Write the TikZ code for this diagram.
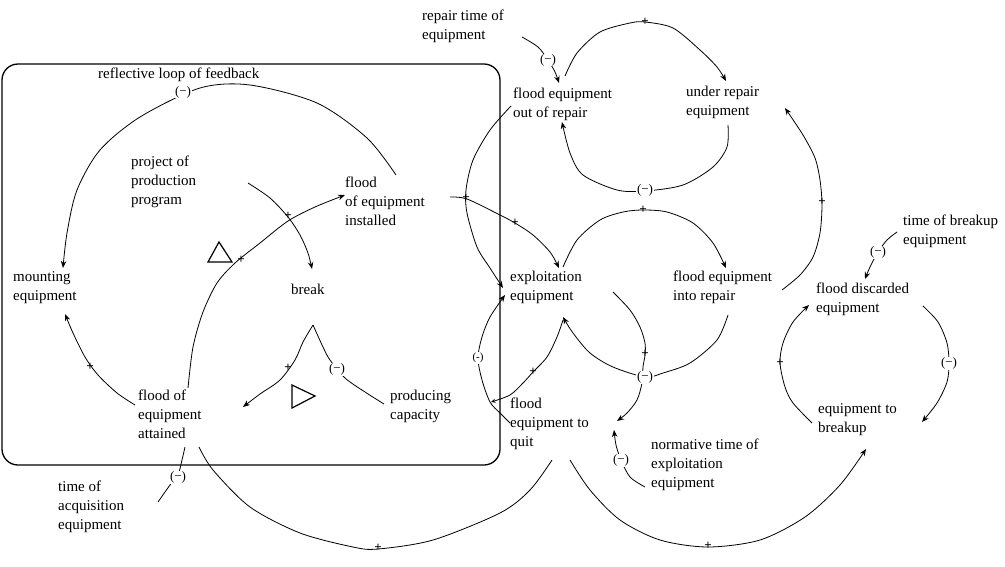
\documentclass[tikz,border=0pt]{standalone}
\usepackage{fontspec}
\setmainfont{Liberation Serif}
\usetikzlibrary{arrows.meta}
\begin{document}
\begin{tikzpicture}[x=1pt,y=-1pt,
  txt/.style={anchor=north west,inner sep=0pt,align=left,font=\fontsize{15}{19}\selectfont,execute at begin node=\strut},
  link/.style={line width=0.8pt},
  arr/.style={link,-{Stealth[length=7pt,width=5.5pt]}},
  sgn/.style={fill=white,inner sep=0.6pt,font=\fontsize{13}{13}\selectfont},
  pls/.style={inner sep=0.3pt,font=\bfseries\fontsize{13}{13}\selectfont},
  boxline/.style={line width=1.3pt,rounded corners=16pt},
  tri/.style={line width=1.2pt,line join=miter}]
\useasboundingbox (0,0) rectangle (1005,566);
% frame
\draw[boxline] (2,64) rectangle (500,465);
\draw[tri] (208,262) -- (219,242) -- (232,262) -- cycle;
\draw[tri] (292,385) -- (315,396) -- (292,408) -- cycle;
% text nodes
\node[txt] (refl) at (98,65) {reflective loop of feedback};
\node[txt] (proj) at (131,156) {project of\\production\\program};
\node[txt] (inst) at (345,177) {flood\\of equipment\\installed};
\node[txt] (mount) at (13,271) {mounting\\equipment};
\node[txt] (brk) at (291,281) {break};
\node[txt] (attn) at (138,390) {flood of\\equipment\\attained};
\node[txt] (prod) at (390,390) {producing\\capacity};
\node[txt] (acq) at (58,481) {time of\\acquisition\\equipment};
\node[txt] (rtime) at (422,10) {repair time of\\equipment};
\node[txt] (outr) at (513,88) {flood equipment\\out of repair};
\node[txt] (under) at (686,86) {under repair\\equipment};
\node[txt] (expl) at (510,271) {exploitation\\equipment};
\node[txt] (intor) at (673,271) {flood equipment\\into repair};
\node[txt] (quit) at (510,398) {flood\\equipment to\\quit};
\node[txt] (norm) at (651,439) {normative time of\\exploitation\\equipment};
\node[txt] (btime) at (903,215) {time of breakup\\equipment};
\node[txt] (disc) at (816,283) {flood discarded\\equipment};
\node[txt] (tobr) at (818,403) {equipment to\\breakup};
% connector end points
\coordinate (a1) at (396,175);  \coordinate (b1) at (63,268);
\coordinate (a2) at (248,183);  \coordinate (b2) at (312,269);
\coordinate (a3) at (188,388);  \coordinate (b3) at (345,195);
\coordinate (a4) at (135,405);  \coordinate (b4) at (65,314);
\coordinate (a5) at (313,325);  \coordinate (b5) at (243,407);
\coordinate (a6) at (313,325);  \coordinate (b6) at (384,404);
\coordinate (a7) at (158,502);  \coordinate (b7) at (185,447);
\coordinate (a8) at (199,447);  \coordinate (b8) at (552,460);
\coordinate (a9) at (570,460);  \coordinate (b9) at (866,449);
\coordinate (a10) at (565,76);  \coordinate (b10) at (726,81);
\coordinate (a11) at (728,125); \coordinate (b11) at (562,122);
\coordinate (a12) at (522,37);  \coordinate (b12) at (559,83);
\coordinate (a13) at (511,106); \coordinate (b13) at (503,288);
\coordinate (a14) at (510,423); \coordinate (b14) at (505,295);
\coordinate (a15) at (563,320); \coordinate (b15) at (491,402);
\coordinate (a16) at (563,267); \coordinate (b16) at (726,268);
\coordinate (a17) at (450,197); \coordinate (b17) at (559,268);
\coordinate (a18) at (728,315); \coordinate (b18) at (563,317);
\coordinate (a19) at (613,292); \coordinate (b19) at (617,421);
\coordinate (a20) at (645,487); \coordinate (b20) at (614,430);
\coordinate (a21) at (782,290); \coordinate (b21) at (785,108);
\coordinate (a22) at (897,232); \coordinate (b22) at (865,279);
\coordinate (a23) at (812,423); \coordinate (b23) at (809,305);
\coordinate (a24) at (923,306); \coordinate (b24) at (922,422);
% connectors
\draw[arr] plot[smooth] coordinates {(a1) (367,138) (317,103) (250,85) (200,88) (140,117) (100,150) (77,190) (67,233) (b1)};
\draw[arr] plot[smooth] coordinates {(a2) (270,198) (288,217) (300,235) (308,253) (b2)};
\draw[arr] plot[smooth] coordinates {(a3) (193,347) (203,312) (217,283) (235,263) (260,243) (288,221) (315,207) (b3)};
\draw[arr] plot[smooth] coordinates {(a4) (117,393) (98,375) (85,357) (73,333) (b4)};
\draw[arr] plot[smooth] coordinates {(a5) (303,342) (295,360) (280,380) (260,394) (b5)};
\draw[link] plot[smooth] coordinates {(a6) (323,347) (330,360) (345,378) (365,392) (b6)};
\draw[link] plot[smooth] coordinates {(a7) (170,485) (178,475) (182,460) (b7)};
\draw[link] plot[smooth] coordinates {(a8) (213,470) (250,507) (300,533) (353,547) (378,549) (433,540) (500,513) (530,490) (b8)};
\draw[arr] plot[smooth] coordinates {(a9) (590,490) (620,520) (660,540) (708,547) (760,540) (805,517) (840,485) (b9)};
\draw[arr] plot[smooth] coordinates {(a10) (577,53) (600,32) (630,23) (645,22) (673,28) (700,50) (717,67) (b10)};
\draw[arr] plot[smooth] coordinates {(a11) (727,147) (713,167) (683,185) (645,191) (617,190) (583,175) (570,153) (b11)};
\draw[arr] plot[smooth] coordinates {(a12) (538,47) (548,60) (555,72) (b12)};
\draw[arr] plot[smooth] coordinates {(a13) (490,130) (473,160) (466,190) (467,213) (477,247) (490,268) (b13)};
\draw[arr] plot[smooth] coordinates {(a14) (500,413) (490,402) (482,380) (478,358) (482,337) (490,317) (b14)};
\draw[link,-{Stealth[length=4.5pt,width=4pt]}] plot[smooth] coordinates {(a15) (557,337) (547,357) (533,372) (523,383) (510,395) (b15)};
\draw[arr] plot[smooth] coordinates {(a16) (577,240) (600,220) (623,212) (643,210) (667,212) (693,223) (713,243) (b16)};
\draw[arr] plot[smooth] coordinates {(a17) (467,199) (500,215) (515,223) (533,235) (550,252) (b17)};
\draw[arr] plot[smooth] coordinates {(a18) (717,340) (690,363) (663,373) (645,377) (613,367) (590,353) (573,333) (b18)};
\draw[arr] plot[smooth] coordinates {(a19) (630,310) (640,327) (645,343) (645,355) (643,367) (642,383) (637,400) (627,413) (b19)};
\draw[arr] plot[smooth] coordinates {(a20) (630,477) (621,460) (616,445) (b20)};
\draw[arr] plot[smooth] coordinates {(a21) (800,275) (813,257) (820,233) (822,205) (820,180) (815,158) (803,135) (b21)};
\draw[arr] plot[smooth] coordinates {(a22) (887,240) (878,252) (870,267) (b22)};
\draw[arr] plot[smooth] coordinates {(a23) (793,403) (785,387) (780,363) (783,343) (793,322) (b23)};
\draw[arr] plot[smooth] coordinates {(a24) (938,322) (947,343) (949,363) (947,382) (937,403) (b24)};
% polarity signs
\node[sgn] (s1) at (183,92) {(−)};
\node[pls] (s2) at (288,216) {+};
\node[pls] (s3) at (241,260) {+};
\node[pls] (s4) at (90,367) {+};
\node[pls] (s5) at (288,368) {+};
\node[sgn] (s6) at (337,369) {(−)};
\node[sgn] (s7) at (178,477) {(−)};
\node[pls] (s8) at (378,548) {+};
\node[pls] (s9) at (708,546) {+};
\node[pls] (s10) at (645,22) {+};
\node[sgn] (s11) at (548,60) {(−)};
\node[sgn] (s12) at (645,190) {(−)};
\node[pls] (s13) at (466,198) {+};
\node[pls] (s14) at (515,223) {+};
\node[pls] (s15) at (643,210) {+};
\node[sgn,font=\fontsize{11}{11}\selectfont] (s16) at (478,358) {(-)};
\node[pls] (s17) at (533,372) {+};
\node[pls] (s18) at (645,354) {+};
\node[sgn] (s19) at (645,377) {(−)};
\node[sgn] (s20) at (621,460) {(−)};
\node[pls] (s21) at (822,202) {+};
\node[sgn] (s22) at (878,252) {(−)};
\node[pls] (s23) at (780,363) {+};
\node[sgn] (s24) at (949,363) {(−)};
\end{tikzpicture}
\end{document}
